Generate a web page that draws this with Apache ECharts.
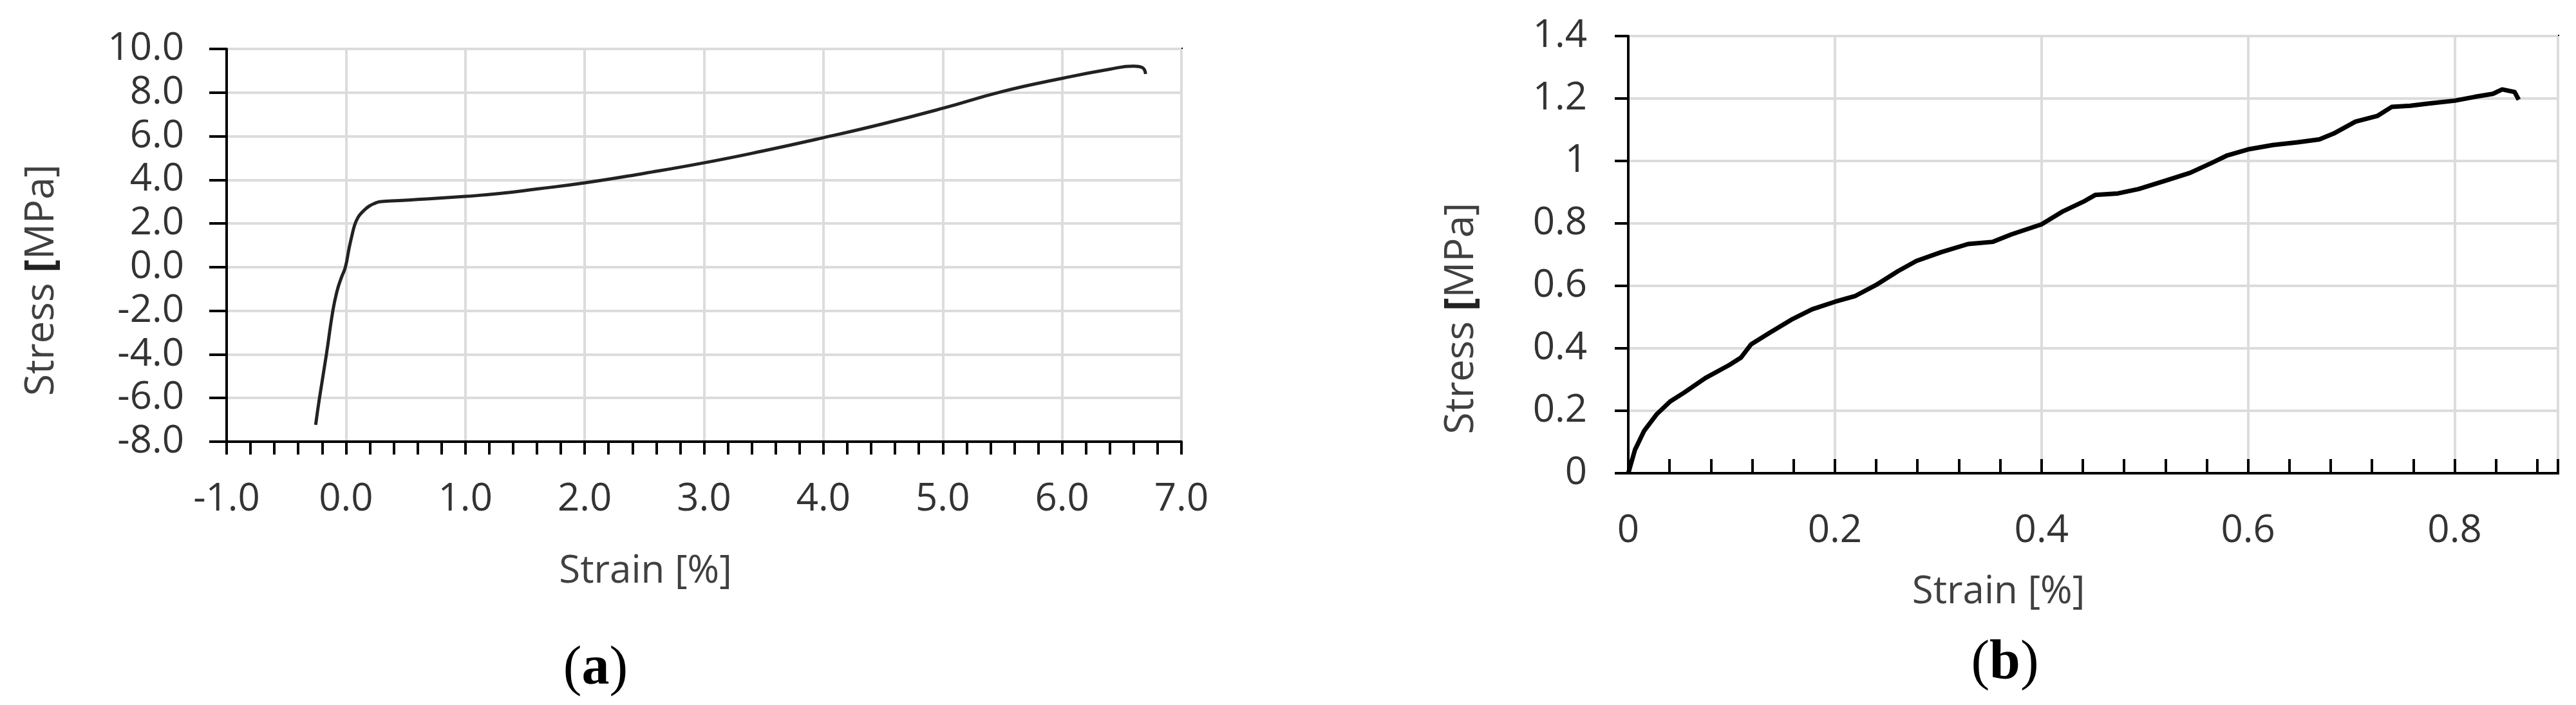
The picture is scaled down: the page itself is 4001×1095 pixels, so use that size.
<!DOCTYPE html>
<html>
<head>
<meta charset="utf-8">
<script src="https://cdn.jsdelivr.net/npm/echarts@6/dist/echarts.min.js"></script>
<style>
html,body{margin:0;padding:0;background:#fff;}
#c{width:4001px;height:1095px;}
</style>
</head>
<body>
<div id="c"></div>
<script>
// ---- Data: panel (a) ----
const strainA = [-0.254, -0.222, -0.164, -0.11, -0.075, -0.04, -0.005, 0.025, 0.05, 0.074, 0.098, 0.124, 0.16, 0.196, 0.24, 0.286, 0.45, 0.6, 0.8, 1.0, 1.3, 1.6, 2.0, 2.5, 3.0, 3.5, 4.0, 4.5, 5.0, 5.5, 6.0, 6.4, 6.6, 6.67, 6.7];
const stressA = [-7.23, -6.0, -4.0, -2.0, -1.1, -0.5, 0.0, 0.84, 1.45, 1.95, 2.25, 2.45, 2.65, 2.8, 2.92, 3.0, 3.05, 3.1, 3.17, 3.24, 3.38, 3.58, 3.86, 4.3, 4.78, 5.33, 5.93, 6.57, 7.28, 8.05, 8.65, 9.07, 9.21, 9.15, 8.85];
// ---- Data: panel (b) ----
const strainB = [0, 0.0065, 0.0154, 0.0273, 0.0406, 0.054, 0.0747, 0.098, 0.109, 0.119, 0.137, 0.158, 0.178, 0.2, 0.22, 0.241, 0.261, 0.279, 0.303, 0.329, 0.353, 0.371, 0.4, 0.421, 0.442, 0.452, 0.474, 0.494, 0.521, 0.544, 0.565, 0.58, 0.6, 0.624, 0.648, 0.669, 0.683, 0.704, 0.725, 0.739, 0.757, 0.775, 0.8, 0.819, 0.837, 0.846, 0.858, 0.862];
const stressB = [0, 0.075, 0.136, 0.188, 0.23, 0.258, 0.305, 0.347, 0.37, 0.413, 0.45, 0.492, 0.525, 0.549, 0.568, 0.605, 0.647, 0.68, 0.708, 0.734, 0.741, 0.765, 0.797, 0.839, 0.872, 0.891, 0.896, 0.91, 0.938, 0.962, 0.994, 1.018, 1.037, 1.051, 1.06, 1.069, 1.088, 1.126, 1.144, 1.173, 1.177, 1.184, 1.193, 1.205, 1.215, 1.229, 1.221, 1.196];
// ---- Axis texts ----
const yTitle = 'Stress [MPa]';
const xTitle = 'Strain [%]';
const panelLetters = ['a', 'b'];

const FONT = 'Open Sans';
const zip = (xs, ys) => xs.map((x, i) => [x, ys[i]]);

const gridLine = { show: true, lineStyle: { color: '#dcdcdc', width: 4 } };
const axisLineBlack = { show: true, onZero: false, lineStyle: { color: '#000', width: 4 } };
const labelStyle = { color: '#333', fontFamily: FONT, fontSize: 60 };
const richName = {
  n: { fontFamily: FONT, fontSize: 62, color: '#404040' },
  k: { fontFamily: FONT, fontSize: 62, color: '#222', fontWeight: 'bold' }
};
const yName = '{n|Stress }{k|[}{n|MPa]}';

const chart = echarts.init(document.getElementById('c'), null, { renderer: 'canvas' });
chart.setOption({
  backgroundColor: '#fff',
  animation: false,
  grid: [
    { left: 352, top: 76, width: 1483, height: 610, show: true, borderColor: '#000', borderWidth: 4 },
    { left: 2529, top: 56, width: 1444, height: 679, show: true, borderColor: '#000', borderWidth: 4 }
  ],
  xAxis: [
    {
      type: 'value', gridIndex: 0, min: -1, max: 7, interval: 1,
      axisLine: axisLineBlack,
      axisTick: { show: true, inside: false, length: 20, lineStyle: { color: '#000', width: 4 } },
      minorTick: { show: true, splitNumber: 5, length: 20, lineStyle: { color: '#000', width: 4 } },
      axisLabel: Object.assign({ margin: 60, formatter: v => v.toFixed(1) }, labelStyle),
      splitLine: gridLine,
      name: xTitle, nameLocation: 'middle', nameGap: 172,
      nameTextStyle: { fontFamily: FONT, fontSize: 60, color: '#404040', padding: [0, 182, 0, 0] }
    },
    {
      type: 'value', gridIndex: 1, min: 0, max: 0.9, interval: 0.2,
      axisLine: axisLineBlack,
      axisTick: { show: false },
      axisLabel: Object.assign({ margin: 60, showMaxLabel: false, formatter: v => String(+v.toFixed(1)) }, labelStyle),
      splitLine: gridLine,
      name: xTitle, nameLocation: 'middle', nameGap: 155,
      nameTextStyle: { fontFamily: FONT, fontSize: 60, color: '#404040', padding: [0, 294, 0, 0] }
    },
    {
      type: 'value', gridIndex: 1, min: 0, max: 0.9, interval: 0.04,
      axisLine: { show: false },
      axisTick: { show: true, inside: false, length: 22, lineStyle: { color: '#000', width: 4 } },
      axisLabel: { show: false },
      splitLine: { show: false }
    }
  ],
  yAxis: [
    {
      type: 'value', gridIndex: 0, min: -8, max: 10, interval: 2,
      axisLine: axisLineBlack,
      axisTick: { show: true, inside: false, length: 27, lineStyle: { color: '#000', width: 4 } },
      axisLabel: Object.assign({ margin: 66, formatter: v => v.toFixed(1) }, labelStyle),
      splitLine: gridLine,
      name: yName, nameLocation: 'middle', nameGap: 256, nameRotate: 90,
      nameTextStyle: { rich: richName, padding: [0, 108, 0, 0] }
    },
    {
      type: 'value', gridIndex: 1, min: 0, max: 1.4, interval: 0.2,
      axisLine: axisLineBlack,
      axisTick: { show: true, inside: false, length: 21, lineStyle: { color: '#000', width: 4 } },
      axisLabel: Object.assign({ margin: 64, formatter: v => String(+v.toFixed(1)) }, labelStyle),
      splitLine: gridLine,
      name: yName, nameLocation: 'middle', nameGap: 228, nameRotate: 90,
      nameTextStyle: { rich: richName, padding: [0, 198, 0, 0] }
    }
  ],
  series: [
    {
      type: 'line', xAxisIndex: 0, yAxisIndex: 0, data: zip(strainA, stressA),
      showSymbol: false, smooth: 0.5,
      lineStyle: { color: '#222', width: 5, join: 'round' }
    },
    {
      type: 'line', xAxisIndex: 1, yAxisIndex: 1, data: zip(strainB, stressB),
      showSymbol: false, smooth: false,
      lineStyle: { color: '#000', width: 7, join: 'round' }
    }
  ],
  graphic: [
    { type: 'text', x: 925, y: 1040, style: {
        text: '{p|(}{b|' + panelLetters[0] + '}{p|)}', textAlign: 'center', textVerticalAlign: 'middle',
        rich: { p: { fontFamily: 'Liberation Serif', fontSize: 86, fill: '#000' },
                b: { fontFamily: 'Liberation Serif', fontSize: 86, fontWeight: 'bold', fill: '#000' } } } },
    { type: 'text', x: 3114, y: 1031, style: {
        text: '{p|(}{b|' + panelLetters[1] + '}{p|)}', textAlign: 'center', textVerticalAlign: 'middle',
        rich: { p: { fontFamily: 'Liberation Serif', fontSize: 86, fill: '#000' },
                b: { fontFamily: 'Liberation Serif', fontSize: 86, fontWeight: 'bold', fill: '#000' } } } }
  ]
});
</script>
</body>
</html>
